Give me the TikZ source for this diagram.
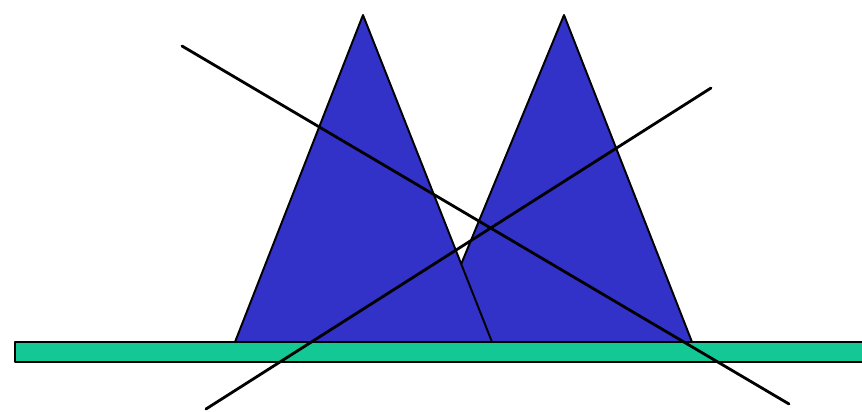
\documentclass[tikz,border=0pt]{standalone}
\usepackage{tikz}
\usetikzlibrary{calc}
\usepackage{xcolor}
\definecolor{peakblue}{RGB}{50, 50, 200}
\definecolor{floorgreen}{RGB}{20, 200, 150}

\begin{document}
\begin{tikzpicture}[x=0.02cm, y=-0.02cm, line join=round]

  \useasboundingbox (0,0) rectangle (862,412);

  % ---------- Ground strip ----------
  \fill[floorgreen] (15,342) rectangle (866,362);
  \draw[black, line width=1.4pt] (866,342) -- (15,342) -- (15,362) -- (866,362);

  % ---------- Two peaks (right one behind) ----------
  \filldraw[fill=peakblue, draw=black, line width=1.1pt] (564,15) -- (692,342) -- (429,342) -- cycle;
  \filldraw[fill=peakblue, draw=black, line width=1.1pt] (363,15) -- (492,342) -- (235,342) -- cycle;
  \draw[black, line width=1.4pt] (235,342) -- (692,342);

  % ---------- Crossing lines ----------
  \draw[black, line width=1.6pt, line cap=round] (182,46) -- (789,404);
  \draw[black, line width=1.6pt, line cap=round] (206,409) -- (711,88);

\end{tikzpicture}
\end{document}
